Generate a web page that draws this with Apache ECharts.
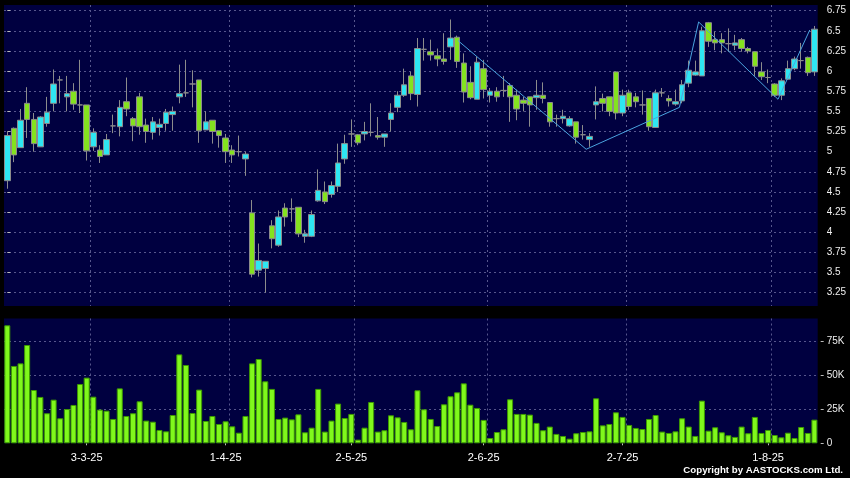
<!DOCTYPE html>
<html><head><meta charset="utf-8">
<script src="https://cdn.jsdelivr.net/npm/echarts@6/dist/echarts.min.js"></script>
<style>html,body{margin:0;padding:0;background:#000;}#c{width:850px;height:478px;}</style>
</head><body><div id="c"></div>
<script>
const dates = [
'12-2-25','13-2-25','14-2-25','17-2-25','18-2-25','19-2-25','20-2-25','21-2-25','24-2-25','25-2-25','26-2-25','27-2-25','28-2-25',
'3-3-25','4-3-25','5-3-25','6-3-25','7-3-25','10-3-25','11-3-25','12-3-25','13-3-25','14-3-25','17-3-25','18-3-25','19-3-25','20-3-25','21-3-25','24-3-25','25-3-25','26-3-25','27-3-25','28-3-25','31-3-25',
'1-4-25','2-4-25','3-4-25','7-4-25','8-4-25','9-4-25','10-4-25','11-4-25','14-4-25','15-4-25','16-4-25','17-4-25','22-4-25','23-4-25','24-4-25','25-4-25','28-4-25','29-4-25','30-4-25',
'2-5-25','6-5-25','7-5-25','8-5-25','9-5-25','12-5-25','13-5-25','14-5-25','15-5-25','16-5-25','19-5-25','20-5-25','21-5-25','22-5-25','23-5-25','26-5-25','27-5-25','28-5-25','29-5-25','30-5-25',
'2-6-25','3-6-25','4-6-25','5-6-25','6-6-25','9-6-25','10-6-25','11-6-25','12-6-25','13-6-25','16-6-25','17-6-25','18-6-25','19-6-25','20-6-25','23-6-25','24-6-25','25-6-25','26-6-25','27-6-25','30-6-25',
'2-7-25','3-7-25','4-7-25','7-7-25','8-7-25','9-7-25','10-7-25','11-7-25','14-7-25','15-7-25','16-7-25','17-7-25','18-7-25','21-7-25','22-7-25','23-7-25','24-7-25','25-7-25','28-7-25','29-7-25','30-7-25','31-7-25',
'1-8-25','4-8-25','5-8-25','6-8-25','7-8-25','8-8-25','11-8-25'];

const opens = [4.64,5.29,5.05,5.60,5.40,5.06,5.35,5.60,5.89,5.68,5.75,5.58,5.58,5.06,5.02,4.96,5.32,5.31,5.62,5.41,
5.68,5.33,5.24,5.30,5.35,5.46,5.68,5.73,5.84,5.89,5.27,5.39,5.26,5.17,5.02,5.00,4.91,4.24,3.53,3.55,
4.08,3.84,4.30,4.29,4.31,3.95,3.95,4.39,4.50,4.47,4.57,4.91,5.22,5.21,5.22,5.24,5.20,5.18,5.40,5.55,
5.70,5.94,5.71,6.27,6.24,6.19,6.15,6.30,6.42,6.10,5.86,5.65,6.03,5.70,5.75,5.76,5.82,5.70,5.64,5.68,
5.67,5.70,5.61,5.41,5.41,5.32,5.37,5.21,5.15,5.58,5.66,5.68,5.99,5.48,5.73,5.68,5.58,5.66,5.30,5.73,
5.66,5.59,5.63,5.85,5.95,5.94,6.60,6.39,6.39,6.34,6.32,6.39,6.28,6.24,5.99,5.92,5.84,5.70,5.90,6.03,
6.13,6.17,5.99];
const closes = [5.20,4.96,5.39,5.40,5.10,5.43,5.49,5.84,5.89,5.72,5.59,5.58,5.01,5.24,4.94,5.15,5.32,5.55,5.53,5.32,
5.31,5.25,5.37,5.34,5.49,5.50,5.72,5.73,5.84,5.26,5.37,5.25,5.20,5.00,4.96,5.00,4.97,3.48,3.65,3.64,
3.92,4.19,4.19,4.29,3.98,3.98,4.22,4.52,4.38,4.58,4.86,5.10,5.22,5.11,5.25,5.24,5.18,5.22,5.48,5.70,
5.83,5.72,6.28,6.27,6.20,6.15,6.12,6.41,6.12,5.74,5.67,6.11,5.77,5.75,5.68,5.76,5.68,5.53,5.60,5.58,
5.70,5.66,5.37,5.41,5.44,5.41,5.18,5.21,5.19,5.62,5.60,5.50,5.48,5.70,5.56,5.62,5.58,5.31,5.73,5.73,
5.63,5.62,5.83,6.01,5.99,6.50,6.37,6.35,6.35,6.34,6.35,6.28,6.25,6.06,5.93,5.92,5.70,5.88,6.03,6.15,
6.13,5.98,6.52];
const lows = [4.54,4.87,5.05,5.17,5.00,5.06,5.31,5.50,5.60,5.50,5.52,5.48,4.89,5.01,4.86,4.96,5.23,5.19,5.44,5.13,
5.21,5.11,5.15,5.20,5.26,5.26,5.60,5.68,5.55,5.11,5.27,5.10,5.05,4.86,4.86,4.94,4.70,3.44,3.45,3.25,
3.80,3.82,4.07,4.13,3.94,3.87,3.94,4.38,4.35,4.43,4.50,4.85,5.06,5.08,5.14,5.19,5.15,5.06,5.25,5.49,
5.68,5.64,5.56,6.13,6.13,6.06,6.08,6.14,6.04,5.61,5.65,5.65,5.66,5.61,5.62,5.68,5.37,5.39,5.50,5.31,
5.52,5.60,5.31,5.31,5.35,5.31,5.10,5.15,5.06,5.40,5.50,5.44,5.40,5.44,5.52,5.55,5.46,5.26,5.30,5.68,
5.56,5.57,5.60,5.80,5.94,5.94,6.30,6.26,6.22,6.24,6.26,6.24,6.22,5.94,5.89,5.85,5.68,5.64,5.89,6.01,
6.03,5.94,5.94];
const highs = [5.25,5.30,5.53,5.80,5.48,5.44,5.68,6.02,5.94,5.94,5.85,6.14,5.58,5.29,5.08,5.22,5.46,5.64,5.92,5.43,
5.73,5.41,5.43,5.41,5.53,5.56,6.08,6.14,6.01,5.89,5.50,5.39,5.26,5.22,5.08,5.20,5.00,4.40,3.86,3.64,
4.15,4.27,4.36,4.42,4.31,4.03,4.27,4.78,4.63,4.63,5.10,5.21,5.40,5.22,5.37,5.60,5.43,5.22,5.60,5.75,
6.03,5.99,6.41,6.41,6.39,6.28,6.47,6.64,6.44,6.22,6.06,6.18,6.14,5.79,5.80,5.94,5.85,5.77,5.68,5.68,
5.89,5.86,5.61,5.46,5.52,5.44,5.37,5.33,5.23,5.81,5.72,5.68,5.99,5.77,5.77,5.73,5.76,5.66,5.77,5.79,
5.70,5.77,5.89,6.13,6.13,6.55,6.61,6.49,6.47,6.53,6.45,6.41,6.30,6.24,6.11,6.02,5.85,5.91,6.13,6.18,
6.35,6.18,6.56];
const volumes = [86800,56900,58800,72300,39200,34100,22100,32100,18400,25200,28200,43600,48300,34300,24800,24000,17900,40400,20100,22100,
30900,16700,15900,9800,8800,20800,65400,57600,22300,39500,16400,20100,14200,16200,12500,7800,20100,58800,62000,45600,
40000,17900,18900,17600,21300,8100,11500,40000,8600,16700,29200,18600,21600,2700,11500,30400,8600,9600,20600,19100,
15700,10300,39000,25000,17900,12700,28700,34600,37500,44100,28400,26000,17200,3900,8300,10300,32400,21600,21600,21100,
15000,9600,12300,6900,5400,3400,7400,8300,8800,33100,13200,14200,22800,19400,13500,11300,10500,17900,20800,8600,
7600,8800,18400,12300,5400,31400,9300,11800,8100,5900,4700,12300,7400,19400,7600,9800,6100,4400,7800,3900,
12000,7600,17400];
const priceTicks = [3.25,3.5,3.75,4,4.25,4.5,4.75,5,5.25,5.5,5.75,6,6.25,6.5,6.75];
const volumeTicks = [0,25000,50000,75000];
const zigzagX = [68.1,87.5,101.6,104.5,116.5,121.3];
const zigzagY = [6.38,5.03,5.55,6.61,5.65,6.51];

const NAVY = '#000040';
const GRID = '#56568c';
const monthStart = new Set();
dates.forEach((d,i)=>{ if(i>0 && d.split('-')[1]!==dates[i-1].split('-')[1]) monthStart.add(i); });
const labelAt = new Set([...monthStart].map(i=>i-1));
const candles = dates.map((d,i)=>[opens[i],closes[i],lows[i],highs[i]]);
const zigzag = zigzagX.map((x,i)=>[x,zigzagY[i]]);
const dash = {color:GRID, type:[2,3], width:1};
const splitFn = (i)=>monthStart.has(i);
const labelFn = (i)=>labelAt.has(i);

const chart = echarts.init(document.getElementById('c'), null, {renderer:'canvas'});
chart.setOption({
  animation:false,
  backgroundColor:'#000',
  grid:[
    {left:4, right:32.3, top:5, height:301, show:true, backgroundColor:NAVY, borderWidth:0},
    {left:4, right:32.3, top:318.5, height:124.8, show:true, backgroundColor:NAVY, borderWidth:0}
  ],
  xAxis:[
    {type:'category', gridIndex:0, data:dates, boundaryGap:true,
     axisLine:{show:false}, axisTick:{show:false}, axisLabel:{show:false},
     splitLine:{show:true, interval:splitFn, showMaxLine:false, lineStyle:dash}},
    {type:'value', gridIndex:0, min:-0.5, max:dates.length-0.5, show:false},
    {type:'category', gridIndex:1, data:dates, boundaryGap:true, position:'bottom', offset:3,
     axisLine:{show:false},
     axisTick:{show:true, alignWithLabel:true, interval:labelFn, length:2, lineStyle:{color:'#bbbbbb'}},
     axisLabel:{show:true, interval:labelFn, formatter:(v,i)=>dates[i+1], color:'#ffffff', fontSize:11, fontFamily:'Liberation Sans, Arial', margin:6},
     splitLine:{show:true, interval:splitFn, showMaxLine:false, lineStyle:dash}}
  ],
  yAxis:[
    {type:'value', gridIndex:0, position:'right', min:3.085, max:6.82, offset:3, scale:true,
     axisLine:{show:false},
     axisTick:{show:true, length:3, customValues:priceTicks, lineStyle:{color:'#bbbbbb'}},
     axisLabel:{customValues:priceTicks, color:'#eeeeee', fontSize:10, fontFamily:'Liberation Sans, Arial', margin:6},
     splitLine:{show:true, lineStyle:dash}},
    {type:'value', gridIndex:1, position:'right', min:0, max:91800, offset:3,
     axisLine:{show:false},
     axisTick:{show:true, length:3, customValues:volumeTicks, lineStyle:{color:'#bbbbbb'}},
     axisLabel:{customValues:volumeTicks, color:'#eeeeee', fontSize:10, fontFamily:'Liberation Sans, Arial', margin:6,
       formatter:(v)=> v===0 ? '0' : (v/1000)+'K'},
     splitLine:{show:true, showMinLine:false, lineStyle:dash}}
  ],
  series:[
    {type:'candlestick', xAxisIndex:0, yAxisIndex:0, data:candles, barWidth:6,
     itemStyle:{color:'#2ee6f2', color0:'#84e21f', borderColor:'#8c8c8c', borderColor0:'#8c8c8c', borderColorDoji:'#8c8c8c', borderWidth:1}},
    {type:'line', xAxisIndex:1, yAxisIndex:0, data:zigzag, symbol:'none',
     lineStyle:{color:'#4aa3df', width:1}},
    {type:'bar', xAxisIndex:2, yAxisIndex:1, data:volumes, barWidth:6,
     itemStyle:{color:'#80f81c', borderColor:'#3d9a00', borderWidth:1}}
  ],
  graphic:[
    {type:'text', right:7, top:465, style:{text:'Copyright by AASTOCKS.com Ltd.', fill:'#ffffff', font:'bold 9.7px "Liberation Sans", Arial'}}
  ]
});
</script></body></html>
